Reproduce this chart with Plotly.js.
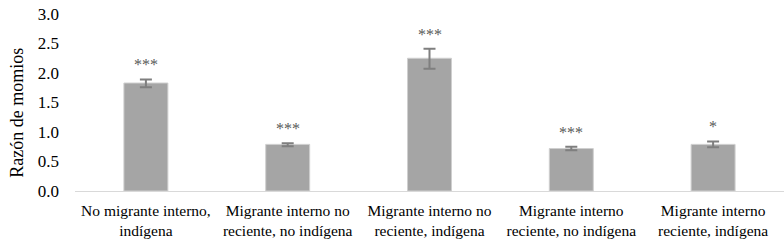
<!DOCTYPE html>
<html>
<head>
<meta charset="utf-8">
<script src="https://cdn.plot.ly/plotly-3.0.1.min.js"></script>
<style>html,body{margin:0;padding:0;background:#fff;}#chart{width:784px;height:245px;}</style>
</head>
<body>
<div id="chart"></div>
<script>
var categories = ["No migrante interno,<br>indígena", "Migrante interno no<br>reciente, no indígena", "Migrante interno no<br>reciente, indígena", "Migrante interno<br>reciente, no indígena", "Migrante interno<br>reciente, indígena"];
var values = [1.83, 0.79, 2.25, 0.72, 0.79];
var errPlus = [0.06, 0.02, 0.16, 0.03, 0.05];
var errMinus = [0.07, 0.03, 0.18, 0.03, 0.05];
var significance = ["***", "***", "***", "***", "*"];
var yTitle = "Razón de momios";

var FAM = "'Times New Roman', 'Liberation Serif', Tinos, serif";

var trace = {
  type: "bar",
  x: categories,
  y: values,
  marker: {color: "#a5a5a5", line: {color: "#cfcfcf", width: 1}},
  error_y: {type: "data", symmetric: false, array: errPlus, arrayminus: errMinus, color: "#7f7f7f", thickness: 2, width: 6},
  hoverinfo: "none"
};

var annotations = categories.map(function(c, i){
  return {x: c, y: values[i] + errPlus[i], text: significance[i], showarrow: false, yanchor: "bottom", yshift: 4,
    font: {family: FAM, size: 16, color: "#595959"}};
});
annotations.push({xref: "paper", yref: "paper", x: -0.081, y: 0.44, text: yTitle, textangle: -90, showarrow: false,
  xanchor: "center", yanchor: "middle", font: {family: FAM, size: 18, color: "#000"}});

var layout = {
  width: 784, height: 245,
  margin: {l: 75, r: 0, t: 14, b: 54},
  paper_bgcolor: "#fff", plot_bgcolor: "#fff",
  bargap: 0.69,
  showlegend: false,
  font: {family: FAM, color: "#000"},
  xaxis: {showline: true, linecolor: "#d9d9d9", linewidth: 1, ticks: "", tickfont: {family: FAM, size: 15.5, color: "#000"}, ticklabelstandoff: 5, showgrid: false, zeroline: false, fixedrange: true},
  yaxis: {range: [0, 3], dtick: 0.5, tickformat: ".1f", showgrid: false, zeroline: false, showline: false, ticks: "", tickfont: {family: FAM, size: 17, color: "#000"}, ticklabelstandoff: 15},
  annotations: annotations
};

Plotly.newPlot("chart", [trace], layout, {displayModeBar: false, staticPlot: true});
</script>
</body>
</html>
